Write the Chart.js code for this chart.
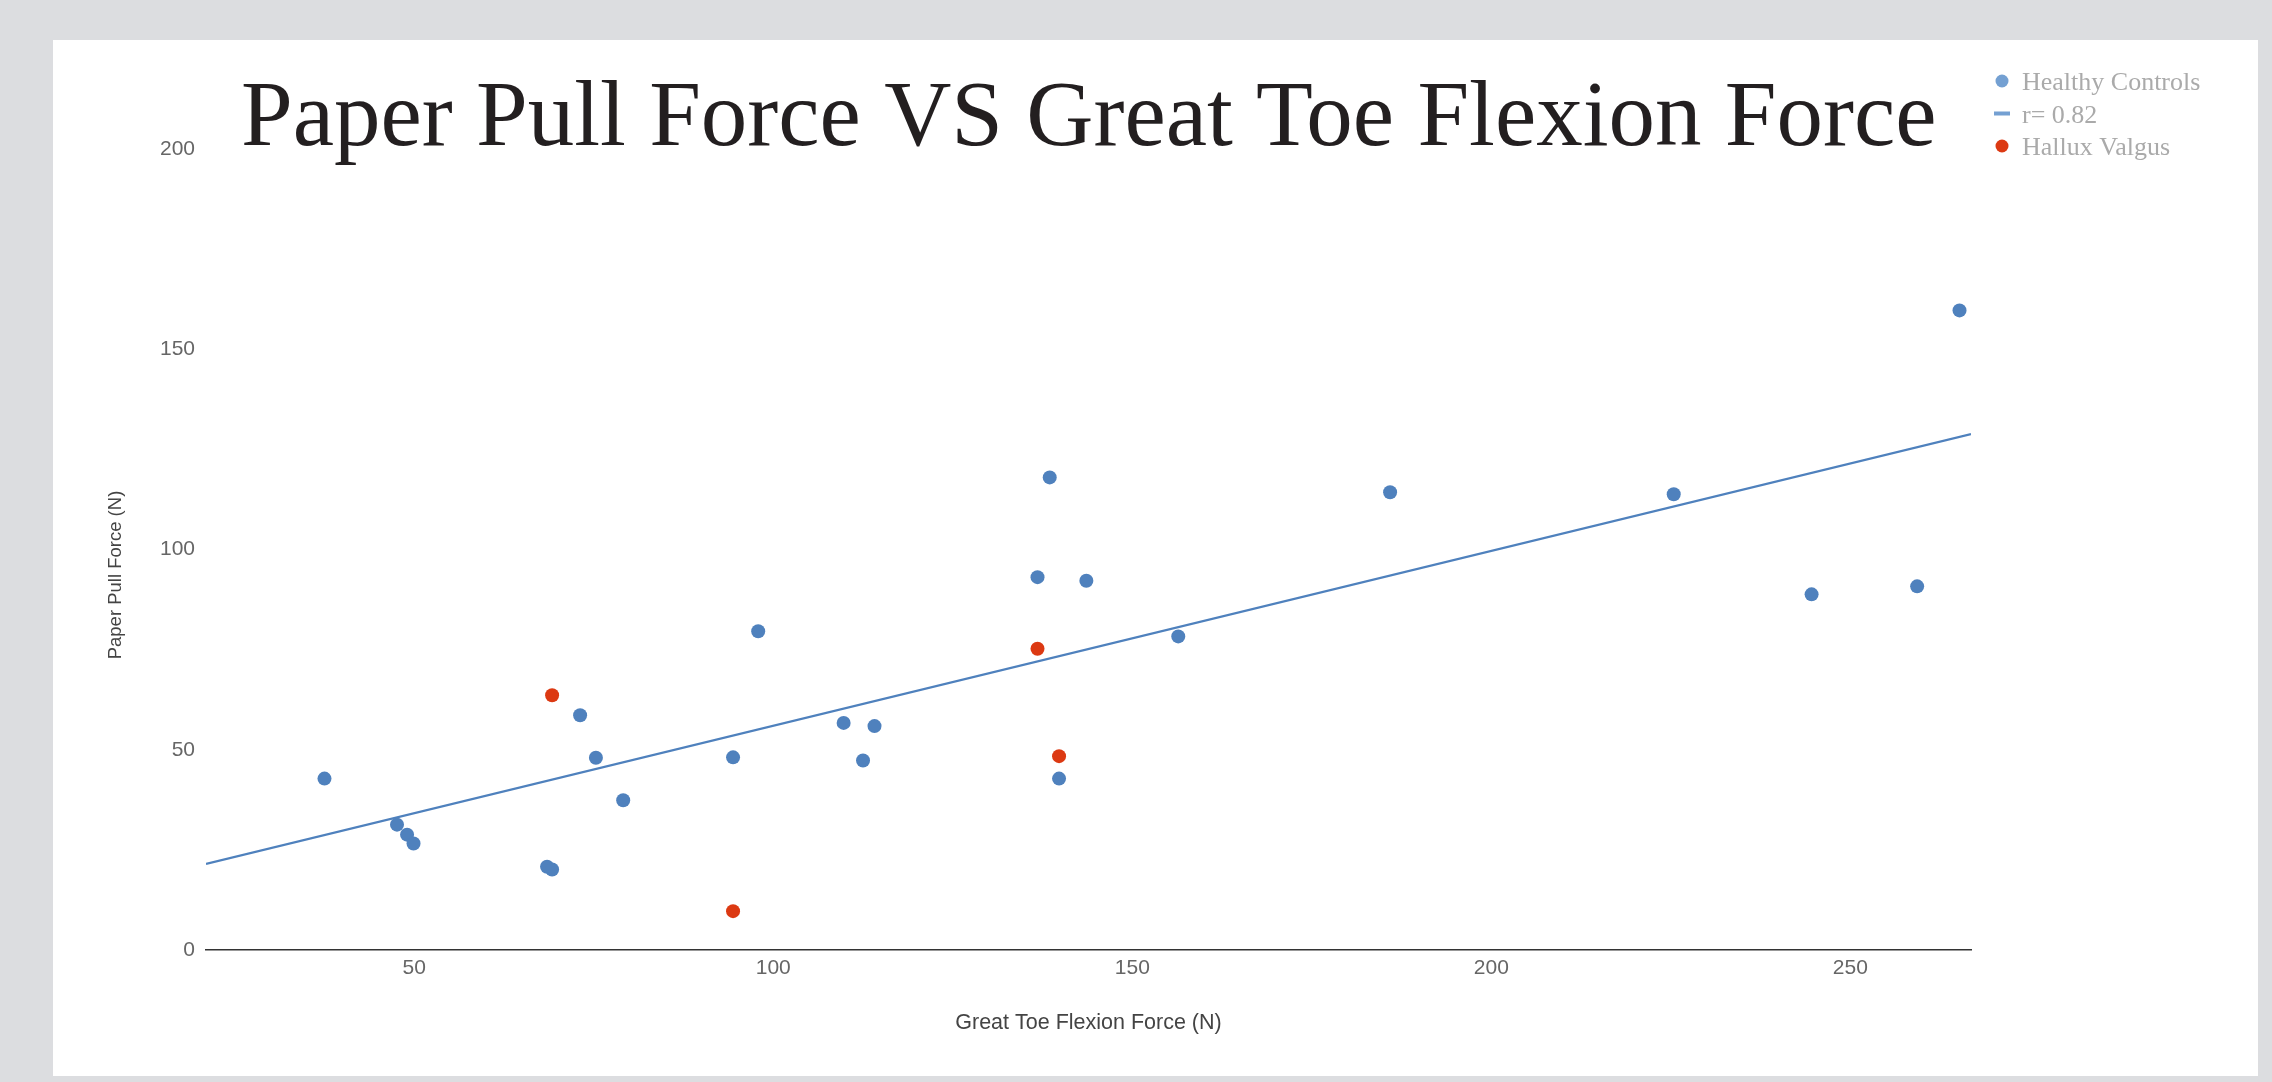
<!DOCTYPE html>
<html>
<head>
<meta charset="utf-8">
<title>Paper Pull Force VS Great Toe Flexion Force</title>
<script src="https://cdn.jsdelivr.net/npm/chart.js@4/dist/chart.umd.min.js"></script>
<style>
  html, body { margin: 0; padding: 0; background: #dcdde0; width: 2272px; height: 1082px; overflow: hidden; }
  #panel { position: absolute; left: 53px; top: 40px; width: 2205px; height: 1036px; background: #ffffff; }
  #chart { display: block; }
</style>
</head>
<body>
<div id="panel"><canvas id="chart" width="2205" height="1036"></canvas></div>
<script>
// Great toe flexion force (N) and paper pull force (N) per subject
const healthyX = [37.5, 47.6, 49.0, 49.9, 68.5, 69.2, 73.1, 75.3, 79.1, 94.4, 97.9, 109.8,
                  112.5, 114.1, 136.8, 138.5, 139.8, 143.6, 156.4, 185.9, 225.4, 244.6, 259.3, 265.2];
const healthyY = [42.8, 31.3, 28.8, 26.6, 20.8, 20.1, 58.6, 48.0, 37.4, 48.1, 79.6, 56.7,
                  47.3, 55.9, 93.1, 118.0, 42.8, 92.2, 78.3, 114.3, 113.8, 88.8, 90.8, 159.7];
const halluxX = [69.2, 94.4, 136.8, 139.8];
const halluxY = [63.6, 9.7, 75.2, 48.4];

// Fitted line end points across the x range
const trendX = [21.0, 266.8];
const trendY = [21.5, 128.8];

const xTicks = [50, 100, 150, 200, 250];
const yTicks = [0, 50, 100, 150, 200];

const seriesNames = ['Healthy Controls', 'r= 0.82', 'Hallux Valgus'];
const titleText = 'Paper Pull Force VS Great Toe Flexion Force';
const xTitle = 'Great Toe Flexion Force (N)';
const yTitle = 'Paper Pull Force (N)';

const BLUE = '#4f81bd';
const RED = '#dc3912';
const LEGEND_BLUE = '#74a0d2';

const toPoints = (xs, ys) => xs.map((x, i) => ({ x: x, y: ys[i] }));

// Title, vertical axis caption and legend are painted on the canvas after the chart
const decorations = {
  id: 'decorations',
  afterDraw(chart) {
    const ctx = chart.ctx;
    ctx.save();
    ctx.fillStyle = '#231f20';
    ctx.font = '93px "Liberation Serif", "DejaVu Serif", serif';
    ctx.textBaseline = 'alphabetic';
    ctx.textAlign = 'left';
    ctx.fillText(titleText, 188, 105);

    // vertical axis caption, sitting a little below the axis middle
    ctx.save();
    ctx.translate(63, 535);
    ctx.rotate(-Math.PI / 2);
    ctx.fillStyle = '#444444';
    ctx.font = '18.5px "Liberation Sans", Arial, sans-serif';
    ctx.textAlign = 'center';
    ctx.textBaseline = 'middle';
    ctx.fillText(yTitle, 0, 0);
    ctx.restore();

    const baselines = [50, 82.5, 115];
    const markerX = 1949;
    ctx.font = '26px "Liberation Serif", "DejaVu Serif", serif';
    ctx.textAlign = 'left';
    ctx.textBaseline = 'alphabetic';
    chart.data.datasets.forEach((ds, i) => {
      const by = baselines[i];
      const cy = by - 9;
      if (ds.legendKind === 'line') {
        ctx.fillStyle = LEGEND_BLUE;
        ctx.fillRect(markerX - 8, cy - 2, 16, 4);
      } else {
        ctx.fillStyle = ds.legendColor;
        ctx.beginPath();
        ctx.arc(markerX, cy, 6.5, 0, Math.PI * 2);
        ctx.fill();
      }
      ctx.fillStyle = '#aaaaaa';
      ctx.fillText(ds.label, 1969, by);
    });
    ctx.restore();
  }
};

new Chart(document.getElementById('chart'), {
  type: 'scatter',
  data: {
    datasets: [
      {
        label: seriesNames[0],
        data: toPoints(healthyX, healthyY),
        backgroundColor: BLUE,
        borderWidth: 0,
        pointRadius: 7,
        legendColor: LEGEND_BLUE,
        order: 2
      },
      {
        label: seriesNames[1],
        type: 'line',
        data: toPoints(trendX, trendY),
        borderColor: BLUE,
        borderWidth: 2.2,
        pointRadius: 0,
        fill: false,
        tension: 0,
        legendKind: 'line',
        order: 3
      },
      {
        label: seriesNames[2],
        data: toPoints(halluxX, halluxY),
        backgroundColor: RED,
        borderWidth: 0,
        pointRadius: 7,
        legendColor: RED,
        order: 1
      }
    ]
  },
  options: {
    responsive: false,
    animation: false,
    events: [],
    layout: { padding: { left: 0, top: 109, right: 287, bottom: 0 } },
    plugins: {
      legend: { display: false },
      title: { display: false },
      tooltip: { enabled: false }
    },
    scales: {
      x: {
        type: 'linear',
        min: trendX[0],
        max: trendX[1],
        afterBuildTicks: (scale) => { scale.ticks = xTicks.map(v => ({ value: v })); },
        afterFit: (scale) => { scale.height = 126; },
        grid: { display: false, drawTicks: false },
        border: { display: true, color: '#333333', width: 1.5 },
        ticks: {
          color: '#666666',
          padding: 6,
          maxRotation: 0,
          font: { family: '"Liberation Sans", Arial, sans-serif', size: 21 }
        },
        title: {
          display: true,
          text: xTitle,
          color: '#444444',
          padding: { top: 0, bottom: 40 },
          font: { family: '"Liberation Sans", Arial, sans-serif', size: 21.5 }
        }
      },
      y: {
        type: 'linear',
        min: 0,
        max: 200,
        afterBuildTicks: (scale) => { scale.ticks = yTicks.map(v => ({ value: v })); },
        afterFit: (scale) => { scale.width = 153; },
        grid: { display: false, drawTicks: false },
        border: { display: false },
        ticks: {
          color: '#666666',
          padding: 11,
          font: { family: '"Liberation Sans", Arial, sans-serif', size: 21 }
        },
        title: { display: false }
      }
    }
  },
  plugins: [decorations]
});
</script>
</body>
</html>
